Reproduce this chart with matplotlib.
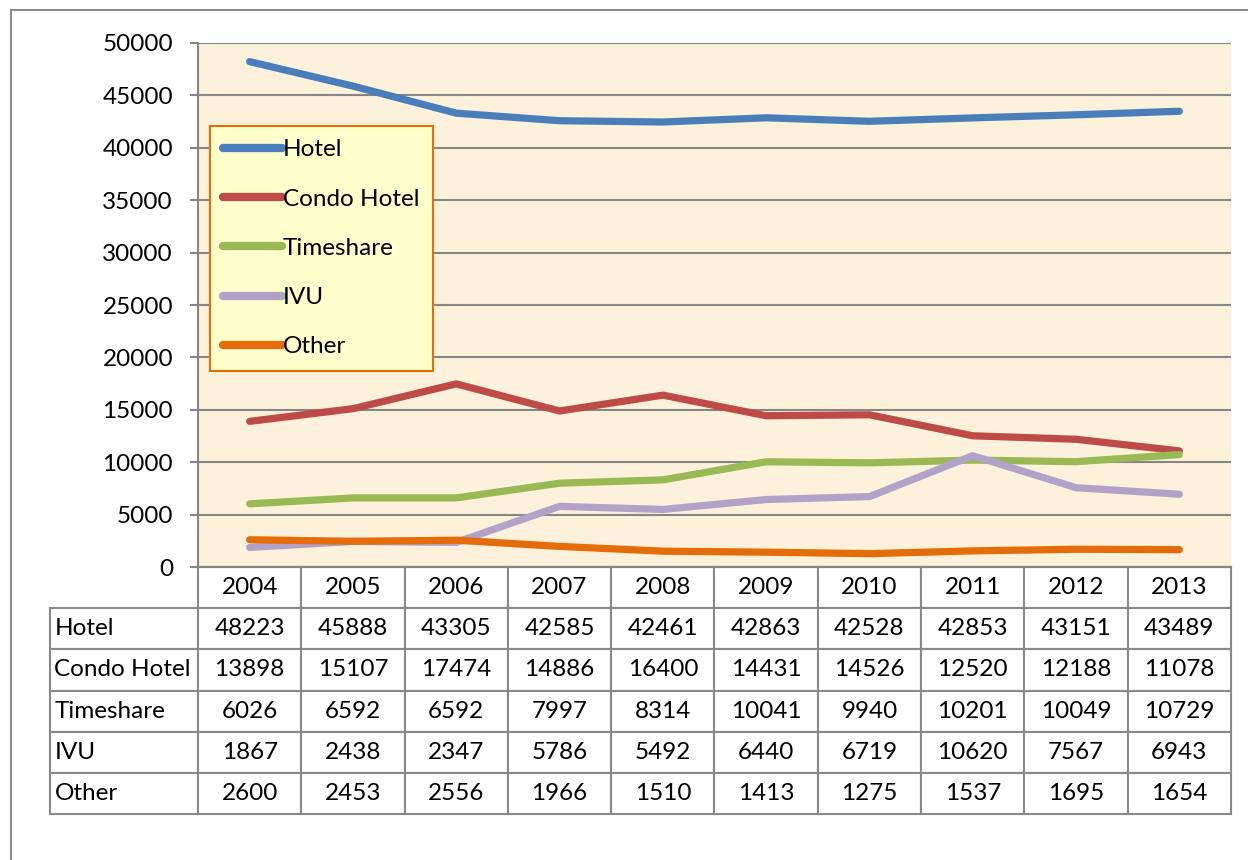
import matplotlib.pyplot as plt
from matplotlib.table import Table
from matplotlib.lines import Line2D

plt.rcParams['font.family'] = ['Lato', 'DejaVu Sans']

years = ['2004', '2005', '2006', '2007', '2008', '2009', '2010', '2011', '2012', '2013']
hotel = [48223, 45888, 43305, 42585, 42461, 42863, 42528, 42853, 43151, 43489]
condo_hotel = [13898, 15107, 17474, 14886, 16400, 14431, 14526, 12520, 12188, 11078]
timeshare = [6026, 6592, 6592, 7997, 8314, 10041, 9940, 10201, 10049, 10729]
ivu = [1867, 2438, 2347, 5786, 5492, 6440, 6719, 10620, 7567, 6943]
other = [2600, 2453, 2556, 1966, 1510, 1413, 1275, 1537, 1695, 1654]

names = ['Hotel', 'Condo Hotel', 'Timeshare', 'IVU', 'Other']
series = [hotel, condo_hotel, timeshare, ivu, other]
colors = ['#4A7EBB', '#BE4B48', '#98B954', '#B3A2C7', '#E46C0A']

W, H = 1248, 860
fig = plt.figure(figsize=(W / 100, H / 100), dpi=100)
fig.patch.set_facecolor('white')

# plot area in pixels
left, right, top, bottom = 198, 1231, 43, 567
pw, ph = right - left, bottom - top
ax = fig.add_axes([left / W, 1 - bottom / H, pw / W, ph / H])
ax.set_facecolor('#FCF2DB')

x = list(range(len(years)))
for name, vals, c in zip(names, series, colors):
    ax.plot(x, vals, color=c, lw=5.2, solid_capstyle='round', solid_joinstyle='round', label=name, zorder=3)

ax.set_xlim(-0.5, len(years) - 0.5)
ax.set_ylim(0, 50000)
ax.set_yticks(range(0, 50001, 5000))
ax.set_xticks([])
ax.tick_params(axis='y', length=6, width=1.5, color='#868686', labelsize=17.5, pad=12)
ax.grid(axis='y', color='#868686', lw=1.5, zorder=1)
ax.set_axisbelow(True)
for s in ['top', 'right']:
    ax.spines[s].set_visible(False)
for s in ['left', 'bottom']:
    ax.spines[s].set_color('#868686')
    ax.spines[s].set_linewidth(1.5)

leg = ax.legend(loc='upper left', bbox_to_anchor=((210 - left) / pw, (bottom - 126) / ph),
                borderaxespad=0, fontsize=17.5, frameon=True, fancybox=False,
                facecolor='#FFFFCC', edgecolor='#E46C0A', framealpha=1,
                handlelength=2.4, handletextpad=0.05, labelspacing=1.16, borderpad=0.55)
leg.get_frame().set_linewidth(1.5)
for h in leg.get_lines():
    h.set_linewidth(6)
    h.set_solid_capstyle('round')

# data table under the plot (sizes in axes units)
tab_left, tab_bottom = 50, 814
label_w = (left - tab_left) / pw
col_w = 1 / len(years)
row_h = (tab_bottom - bottom) / ph / (len(names) + 1)
tbl = Table(ax, bbox=[0, -(tab_bottom - bottom) / ph, 1, (tab_bottom - bottom) / ph])
for j, yr in enumerate(years):
    tbl.add_cell(0, j, width=col_w, height=row_h, text=yr, loc='center')
for i, (name, vals) in enumerate(zip(names, series)):
    cell = tbl.add_cell(i + 1, -1, width=label_w, height=row_h, text=name, loc='left')
    cell.PAD = 0.03
    for j, v in enumerate(vals):
        tbl.add_cell(i + 1, j, width=col_w, height=row_h, text=str(v), loc='center')
tbl.auto_set_font_size(False)
tbl.set_fontsize(17.5)
for cell in tbl.get_celld().values():
    cell.set_edgecolor('#898989')
    cell.set_linewidth(1.5)
    cell.set_facecolor('white')
ax.add_table(tbl)

# outer chart border
fig.add_artist(Line2D([11 / W, 1], [1 - 10 / H, 1 - 10 / H], color='#8C8C8C', lw=1.5))
fig.add_artist(Line2D([11 / W, 11 / W], [0, 1 - 10 / H], color='#8C8C8C', lw=1.5))

fig.savefig('out.png', dpi=100)
